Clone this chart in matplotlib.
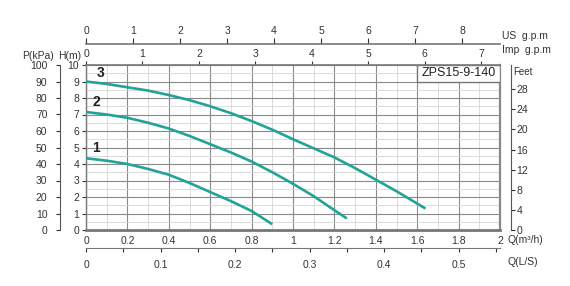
import matplotlib
matplotlib.use("Agg")
import matplotlib.pyplot as plt
from matplotlib.patches import Rectangle
import numpy as np

plt.rcParams["font.family"] = ["Liberation Sans", "DejaVu Sans"]

# curve data: Q in m3/h, H in m
q1 = [0, 0.1, 0.2, 0.3, 0.4, 0.5, 0.6, 0.7, 0.8, 0.9]
h1 = [4.35, 4.2, 4.0, 3.7, 3.35, 2.85, 2.3, 1.75, 1.15, 0.35]
q2 = [0, 0.1, 0.2, 0.3, 0.4, 0.5, 0.6, 0.7, 0.8, 0.9, 1.0, 1.1, 1.2, 1.26]
h2 = [7.15, 7.0, 6.8, 6.5, 6.15, 5.7, 5.2, 4.7, 4.15, 3.5, 2.8, 2.05, 1.2, 0.7]
q3 = [0, 0.1, 0.2, 0.3, 0.4, 0.5, 0.6, 0.7, 0.8, 0.9, 1.0, 1.1, 1.2, 1.3, 1.4, 1.5, 1.64]
h3 = [9.0, 8.85, 8.65, 8.45, 8.18, 7.87, 7.5, 7.08, 6.6, 6.08, 5.5, 4.95, 4.4,
      3.75, 3.05, 2.35, 1.3]
curve_names = ["1", "2", "3"]
model = "ZPS15-9-140"

q_ticks = [0, 0.2, 0.4, 0.6, 0.8, 1.0, 1.2, 1.4, 1.6, 1.8, 2.0]
q_labels = ["0", "0.2", "0.4", "0.6", "0.8", "1", "1.2", "1.4", "1.6", "1.8", "2"]
kpa_ticks = list(range(0, 101, 10))
feet_ticks = list(range(0, 29, 4))
us_ticks = list(range(0, 9))
imp_ticks = list(range(0, 8))
ls_labels = ["0", "0.1", "0.2", "0.3", "0.4", "0.5"]

W, H = 570, 286
teal = "#22a398"
txt = "#333333"
fs = 7.5


def fx(x):
    return x / W


def fy(y):
    return 1 - y / H


fig = plt.figure(figsize=(5.7, 2.86), dpi=100)
fig.patch.set_facecolor("white")

left, right, top, bottom = 86, 500, 65, 230
ax = fig.add_axes([fx(left), fy(bottom), (right - left) / W, (bottom - top) / H])

ax.set_xlim(0, 2)
ax.set_ylim(0, 10)
ax.set_xticks(q_ticks)
ax.set_xticklabels(q_labels)
ax.set_xticks(np.arange(0, 2.01, 0.1), minor=True)
ax.set_yticks(range(0, 11))
ax.set_yticks(np.arange(0, 10.01, 0.5), minor=True)
ax.tick_params(axis="x", which="major", length=0, pad=4, labelsize=fs, colors=txt)
ax.tick_params(axis="y", which="major", length=3, pad=2, labelsize=fs, colors=txt)
ax.tick_params(which="minor", length=0)
ax.grid(which="major", color="#8a8a8a", lw=0.8)
ax.grid(which="minor", color="#d6d6d6", lw=0.6)
ax.set_axisbelow(True)
ax.spines["bottom"].set_linewidth(2)
ax.spines["bottom"].set_color("#777777")
ax.spines["right"].set_linewidth(1.6)
ax.spines["right"].set_color("#888888")
ax.spines["top"].set_linewidth(1.2)
ax.spines["top"].set_color("#777777")
ax.spines["left"].set_linewidth(1.0)
ax.spines["left"].set_color("#777777")

for q, h in [(q1, h1), (q2, h2), (q3, h3)]:
    ax.plot(q, h, color=teal, lw=1.9, solid_capstyle="butt",
            solid_joinstyle="round", zorder=3)

# curve numbers
for name, (xq, yh) in zip(curve_names, [(0.05, 5.0), (0.05, 7.75), (0.07, 9.5)]):
    ax.text(xq, yh, name, fontsize=10, fontweight="bold", color="#222222",
            ha="center", va="center")

# model box
ax.add_patch(Rectangle((1.6, 9), 0.4, 1, facecolor="white", edgecolor="#777777",
                       lw=1, zorder=4))
ax.text(1.8, 9.5, model, fontsize=9, color="#222222", ha="center", va="center",
        zorder=5)

# Imp g.p.m on the top of the chart
imp = ax.secondary_xaxis("top", functions=(lambda q: q / 0.27277, lambda g: g * 0.27277))
imp.set_xticks(imp_ticks)
imp.tick_params(length=3, pad=1, labelsize=fs, colors=txt)
imp.spines["top"].set_visible(False)

# US g.p.m axis
us = fig.add_axes([fx(left), fy(44), (right - left) / W, 0.0001])
us.set_xlim(0, 2 / 0.22712)
us.set_xticks(us_ticks)
us.xaxis.set_ticks_position("top")
us.xaxis.set_label_position("top")
us.tick_params(axis="x", direction="out", length=4, pad=2, labelsize=fs, colors=txt)
us.set_yticks([])
for s in ["left", "right", "bottom"]:
    us.spines[s].set_visible(False)
us.spines["top"].set_color("#777777")
us.spines["top"].set_linewidth(1.2)
us.patch.set_alpha(0)

# Q(L/S) axis
ls = fig.add_axes([fx(left), fy(248), (right - left) / W, 0.0001])
ls.set_xlim(0, 2 / 3.6)
ls_pos = np.arange(0, 0.551, 0.05)
ls.set_xticks(ls_pos)
ls.set_xticklabels([ls_labels[i // 2] if i % 2 == 0 else "" for i in range(len(ls_pos))])
ls.tick_params(axis="x", direction="out", length=3, pad=6, labelsize=fs, colors=txt)
ls.set_yticks([])
for s in ["left", "right", "top"]:
    ls.spines[s].set_visible(False)
ls.spines["bottom"].set_color("#777777")
ls.patch.set_alpha(0)

# P(kPa) axis
pk = fig.add_axes([fx(60), fy(bottom), 0.0001, (bottom - top) / H])
pk.set_ylim(0, 100)
pk.set_yticks(kpa_ticks)
pk.tick_params(axis="y", direction="out", length=3, pad=6, labelsize=fs, colors=txt)
pk.set_xticks([])
for s in ["right", "top", "bottom"]:
    pk.spines[s].set_visible(False)
pk.spines["left"].set_color("#555555")
pk.patch.set_alpha(0)

# Feet axis
ft = fig.add_axes([fx(511) - 0.0001, fy(bottom), 0.0001, (bottom - top) / H])
ft.set_ylim(0, 10 * 3.28084)
ft.set_yticks(feet_ticks)
ft.yaxis.set_ticks_position("right")
ft.tick_params(axis="y", direction="out", length=3, pad=1, labelsize=fs, colors=txt)
ft.set_xticks([])
for s in ["left", "top", "bottom"]:
    ft.spines[s].set_visible(False)
ft.spines["right"].set_color("#555555")
ft.patch.set_alpha(0)

# axis titles
fig.text(fx(38), fy(56), "P(kPa)", fontsize=fs, color=txt, ha="center", va="center")
fig.text(fx(70), fy(56), "H(m)", fontsize=fs, color=txt, ha="center", va="center")
fig.text(fx(502), fy(36), "US  g.p.m", fontsize=fs, color=txt, ha="left", va="center")
fig.text(fx(502), fy(50), "Imp  g.p.m", fontsize=fs, color=txt, ha="left", va="center")
fig.text(fx(513), fy(72), "Feet", fontsize=fs - 0.5, color=txt, ha="left", va="center")
fig.text(fx(508), fy(240), "Q(m³/h)", fontsize=fs, color=txt, ha="left", va="center")
fig.text(fx(508), fy(262), "Q(L/S)", fontsize=fs, color=txt, ha="left", va="center")

fig.savefig("out.png", dpi=100)
